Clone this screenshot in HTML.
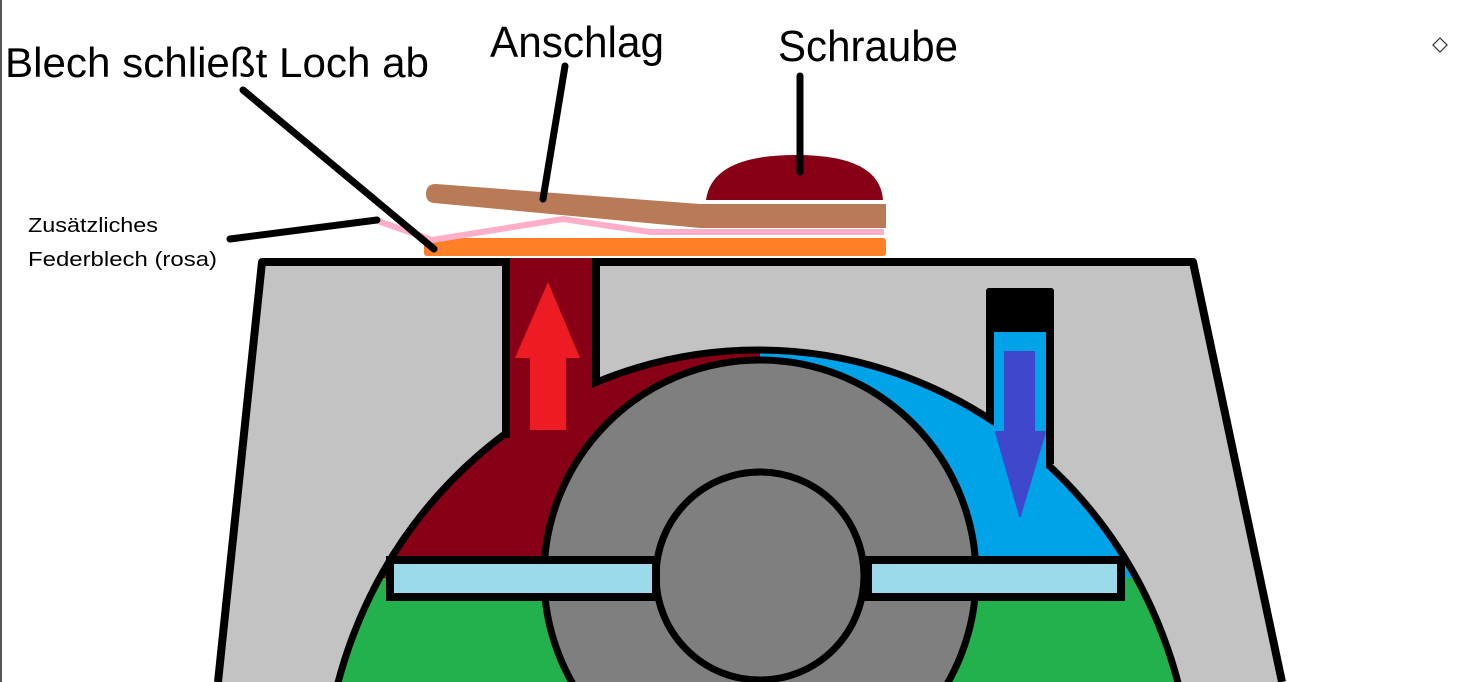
<!DOCTYPE html>
<html><head><meta charset="utf-8"><style>
html,body{margin:0;padding:0;background:#fff;width:1470px;height:682px;overflow:hidden}
svg{display:block;overflow:hidden}
text{font-family:"Liberation Sans",sans-serif;fill:#000}
</style></head><body>
<svg width="1470" height="682" viewBox="0 0 1470 682" xmlns="http://www.w3.org/2000/svg">
<defs>
<clipPath id="ell"><ellipse cx="758" cy="800" rx="435" ry="450"/></clipPath>
<clipPath id="frame"><rect x="0" y="0" width="1470" height="682"/></clipPath>
</defs>
<rect x="0" y="0" width="1470" height="682" fill="#fff"/>
<rect x="0" y="0" width="2" height="682" fill="#555"/>
<g clip-path="url(#frame)">
<polygon points="262,262 1193,262 1282,682 218,682" fill="#c3c3c3"/>
<polyline points="218,682 262,262 1193,262 1282,682" fill="none" stroke="#000" stroke-width="8" stroke-linejoin="round"/>
<g clip-path="url(#ell)">
<rect x="300" y="340" width="460" height="240" fill="#880015"/>
<rect x="760" y="340" width="440" height="240" fill="#00a2e8"/>
<rect x="300" y="578" width="900" height="104" fill="#22b14c"/>
</g>
<ellipse cx="758" cy="800" rx="435" ry="450" fill="none" stroke="#000" stroke-width="7"/>
<rect x="510" y="258" width="82" height="184" fill="#880015"/>
<line x1="506" y1="262" x2="506" y2="438" stroke="#000" stroke-width="8"/>
<line x1="596" y1="262" x2="596" y2="384" stroke="#000" stroke-width="8"/>
<rect x="994" y="300" width="52" height="172" fill="#00a2e8"/>
<line x1="990" y1="300" x2="990" y2="420" stroke="#000" stroke-width="8"/>
<line x1="1050" y1="300" x2="1050" y2="464" stroke="#000" stroke-width="8"/>
<rect x="986" y="288" width="68" height="44" rx="3" fill="#000"/>
<circle cx="760" cy="576" r="216" fill="#7f7f7f" stroke="#000" stroke-width="7"/>
<circle cx="760" cy="576" r="104" fill="#7f7f7f" stroke="#000" stroke-width="7"/>
<rect x="390" y="560" width="266" height="37" fill="#99d9ea" stroke="#000" stroke-width="8"/>
<rect x="868" y="560" width="253" height="37" fill="#99d9ea" stroke="#000" stroke-width="8"/>
<polygon points="548,282 580,358 566,358 566,430 530,430 530,358 515,358" fill="#ed1c24"/>
<polygon points="1005,352 1034,352 1034,432 1045,432 1020,516 996,432 1005,432" fill="#3f48cc" stroke="#3f48cc" stroke-width="2" stroke-linejoin="round"/>
</g>
<rect x="424" y="238" width="462" height="18" rx="3" fill="#ff7f27"/>
<polyline points="378,221 432,240 563,219 650,232 884,232" fill="none" stroke="#ffaec9" stroke-width="6"/>
<path d="M706,200 Q712,155 796,155 Q880,155 883,200 Z" fill="#880015"/>
<path d="M436,184 L700,204 L886,204 L886,228 L700,228 L434,203 Q426,202 426,194 Q426,184 436,184 Z" fill="#b97a57"/>
<g stroke="#000" stroke-width="7" stroke-linecap="round">
<line x1="243" y1="90" x2="434" y2="249"/>
<line x1="565" y1="66" x2="543" y2="199"/>
<line x1="800" y1="76" x2="800" y2="172"/>
<line x1="230" y1="239" x2="377" y2="220"/>
</g>
<text x="5" y="77" font-size="42" textLength="424" lengthAdjust="spacingAndGlyphs">Blech schließt Loch ab</text>
<text x="490" y="57" font-size="44" textLength="174" lengthAdjust="spacingAndGlyphs">Anschlag</text>
<text x="778" y="61" font-size="44" textLength="180" lengthAdjust="spacingAndGlyphs">Schraube</text>
<text x="28" y="232" font-size="20" textLength="130" lengthAdjust="spacingAndGlyphs">Zusätzliches</text>
<text x="28" y="266" font-size="20" textLength="189" lengthAdjust="spacingAndGlyphs">Federblech (rosa)</text>
<g transform="translate(1440,45) rotate(45)"><rect x="-5" y="-5" width="10" height="10" fill="#fff" stroke="#333" stroke-width="1.2"/></g>
</svg>
</body></html>
